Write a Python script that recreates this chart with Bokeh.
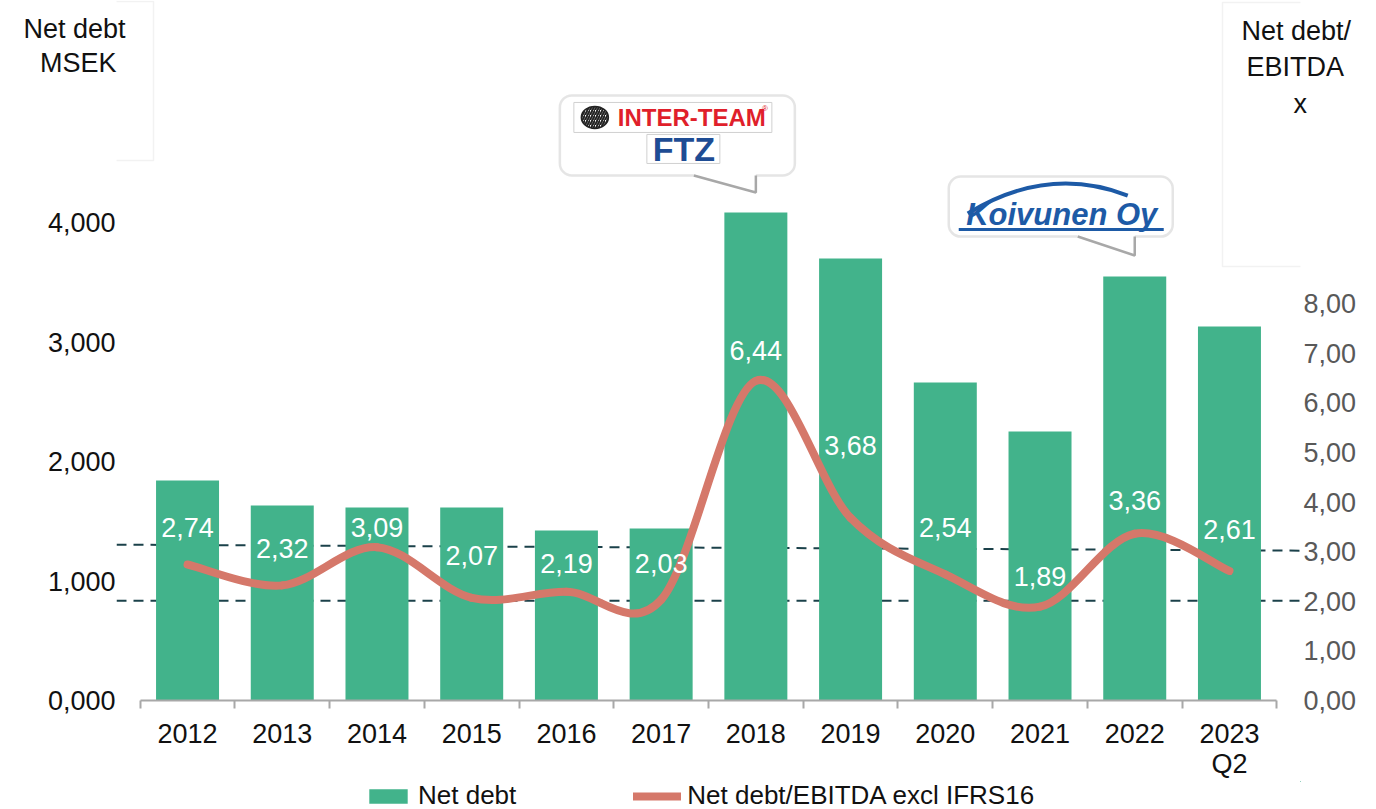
from bokeh.plotting import figure
from bokeh.layouts import column
from bokeh.models import (Range1d, LinearAxis, FixedTicker, Legend, LegendItem,
                          BoxAnnotation, ColumnDataSource)
from bokeh.core.properties import value
from bokeh.embed import file_html
from bokeh.resources import INLINE

# ---------------- data ----------------
categories = ["2012", "2013", "2014", "2015", "2016", "2017", "2018", "2019",
              "2020", "2021", "2022", "2023\nQ2"]
net_debt = [1841, 1632, 1615, 1615, 1423, 1439, 4084, 3699, 2661, 2251, 3548, 3130]
net_debt_ebitda = [2.74, 2.32, 3.09, 2.07, 2.19, 2.03, 6.44, 3.68, 2.54, 1.89, 3.36, 2.61]
ratio_labels = ["2,74", "2,32", "3,09", "2,07", "2,19", "2,03", "6,44", "3,68",
                "2,54", "1,89", "3,36", "2,61"]
left_ticks = [0, 1000, 2000, 3000, 4000]
left_tick_labels = ["0,000", "1,000", "2,000", "3,000", "4,000"]
right_ticks = [0, 1, 2, 3, 4, 5, 6, 7, 8]
right_tick_labels = ["0,00", "1,00", "2,00", "3,00", "4,00", "5,00", "6,00", "7,00", "8,00"]
left_title_lines = ["Net debt", "MSEK"]
right_title_lines = ["Net debt/", "EBITDA", "x"]
series_names = ["Net debt", "Net debt/EBITDA excl IFRS16"]
guide_start = [3.14, 2.01]   # dashed reference lines (right axis), left end
guide_end = [3.02, 2.01]     # right end

# label vertical offsets above the line points (pixels)
label_dy = [37, 37, 20, 42, 28, 36, 30, 72, 47, 30, 33, 41]

# ---------------- layout constants ----------------
FONT = "Liberation Sans"
W = 1376
FW, FH = 1184, 700
ML, MR, MT = 116, 76, 0
X0, X1 = -0.25, 12.25
PX_X = FW / (X1 - X0)
PX_YL = 0.1195          # px per MSEK
PX_YR = 49.625          # px per ratio unit
YL_MAX = FH / PX_YL
YR_MAX = FH / PX_YR

GREEN = "#42b38b"
SALMON = "#d5786a"
GUIDE = "#1b414a"
AXIS_GRAY = "#a8a8a8"
TXT = "#111111"

n = len(categories)
pos = [i + 0.5 for i in range(n)]
bounds = list(range(n + 1))

p = figure(x_range=Range1d(X0, X1), y_range=Range1d(0, YL_MAX),
           frame_width=FW, frame_height=FH,
           min_border_left=ML, min_border_right=MR, min_border_top=MT, min_border_bottom=0,
           output_backend="svg", toolbar_location=None)
p.extra_y_ranges = {"right": Range1d(0, YR_MAX)}
p.grid.visible = False
p.outline_line_color = None
p.background_fill_color = "white"
p.border_fill_color = "white"


def xd(px):
    return X0 + (px - ML) / PX_X


def yd(py):
    return (MT + FH - py) / PX_YL


def yr(py):
    return round((MT + FH - py) / PX_YR, 3)


def plain(ax, size="27px", color=TXT, standoff=1):
    ax.axis_line_color = None
    ax.major_tick_line_color = None
    ax.minor_tick_line_color = None
    ax.major_tick_out = 0
    ax.major_tick_in = 0
    ax.minor_tick_out = 0
    ax.minor_tick_in = 0
    ax.major_label_text_font = FONT
    ax.major_label_text_font_size = size
    ax.major_label_text_color = color
    ax.major_label_standoff = standoff


def title_axis(text, tick, standoff, side, range_name="default"):
    ax = LinearAxis(y_range_name=range_name, ticker=FixedTicker(ticks=[tick]),
                    major_label_overrides={tick: text})
    plain(ax, standoff=standoff)
    p.add_layout(ax, side)


# ---------------- axes ----------------
xa = p.xaxis[0]
xa.ticker = FixedTicker(ticks=pos, minor_ticks=bounds)
xa.major_label_overrides = {pp: c for pp, c in zip(pos, categories)}
xa.bounds = (bounds[0], bounds[-1])
xa.axis_line_color = AXIS_GRAY
xa.axis_line_width = 2
xa.major_tick_line_color = None
xa.major_tick_out = 0
xa.major_tick_in = 0
xa.minor_tick_line_color = AXIS_GRAY
xa.minor_tick_line_width = 2
xa.minor_tick_out = 8
xa.minor_tick_in = 0
xa.major_label_text_font = FONT
xa.major_label_text_font_size = "27px"
xa.major_label_text_color = TXT
xa.major_label_text_line_height = 1.0
xa.major_label_standoff = 10

# left: numbers (inner), then title lines (outer, pulled back with negative standoff)
ya = p.yaxis[0]
ya.ticker = FixedTicker(ticks=left_ticks)
ya.major_label_overrides = {t: l for t, l in zip(left_ticks, left_tick_labels)}
plain(ya, standoff=1)
title_axis(left_title_lines[1], float(round(yd(63))), -72, "left")
title_axis(left_title_lines[0], float(round(yd(28))), -89, "left")

# right: title lines (inner, increasing right end), then numbers
title_axis(right_title_lines[2], yr(103), -7, "right", "right")
title_axis(right_title_lines[1], yr(67), -64, "right", "right")
title_axis(right_title_lines[0], yr(30), -106, "right", "right")
ra = LinearAxis(y_range_name="right")
ra.ticker = FixedTicker(ticks=right_ticks)
ra.major_label_overrides = {t: l for t, l in zip(right_ticks, right_tick_labels)}
plain(ra, color="#595959", standoff=-51)
p.add_layout(ra, "right")

# ---------------- dashed guides ----------------
p.segment(x0=[X0] * len(guide_start), x1=[X1] * len(guide_end), y0=guide_start, y1=guide_end,
          y_range_name="right", line_color=GUIDE, line_width=2, line_dash="10 7")

# ---------------- bars ----------------
src = ColumnDataSource(dict(x=pos, nd=net_debt, r=net_debt_ebitda, lab=ratio_labels,
                            dy=[-d for d in label_dy]))
bars = p.vbar(x="x", top="nd", width=0.665, source=src, fill_color=GREEN, line_color=None)

# ---------------- smoothed ratio line (Catmull-Rom / Bezier through the data) ----------------
m = []
for i in range(n):
    a = max(i - 1, 0)
    b = min(i + 1, n - 1)
    m.append(((pos[b] - pos[a]) / 6.0, (net_debt_ebitda[b] - net_debt_ebitda[a]) / 6.0))
bx0, by0, bx1, by1, cx0, cy0, cx1, cy1 = [], [], [], [], [], [], [], []
for i in range(n - 1):
    bx0.append(pos[i]); by0.append(net_debt_ebitda[i])
    bx1.append(pos[i + 1]); by1.append(net_debt_ebitda[i + 1])
    cx0.append(pos[i] + m[i][0]); cy0.append(net_debt_ebitda[i] + m[i][1])
    cx1.append(pos[i + 1] - m[i + 1][0]); cy1.append(net_debt_ebitda[i + 1] - m[i + 1][1])
curve = p.bezier(x0=bx0, y0=by0, x1=bx1, y1=by1, cx0=cx0, cy0=cy0, cx1=cx1, cy1=cy1,
                 y_range_name="right", line_color=SALMON, line_width=8, line_cap="round")

# ---------------- data labels ----------------
p.text(x="x", y="r", text="lab", y_offset="dy", source=src, y_range_name="right",
       text_color="white", text_font=value(FONT), text_font_size="27px",
       text_align="center", text_baseline="middle")


# ---------------- callout bubbles ----------------
def bubble(i, tip_gap, box_l, box_r, box_t, box_b, tail_l):
    tx = pos[i]
    ty = net_debt[i] + tip_gap / PX_YL
    dx = lambda d: tx + d / PX_X
    dy = lambda d: ty + d / PX_YL
    p.add_layout(BoxAnnotation(left=dx(box_l), right=dx(box_r), top=dy(box_t), bottom=dy(box_b),
                               fill_color="white", fill_alpha=1.0, line_color=AXIS_GRAY,
                               line_width=2.5, border_radius=12))
    p.patch([dx(tail_l), dx(tail_l), tx, tx], [dy(box_b + 3), dy(box_b), ty, dy(box_b + 3)],
            fill_color="white", line_color=None, level="overlay")
    p.line([dx(tail_l), tx, tx], [dy(box_b), ty, dy(box_b)], line_color=AXIS_GRAY,
           line_width=2.5, level="overlay")
    return dx, dy


dx, dy = bubble(6, 20, -196, 39, 97, 17, -62)
p.quad(left=[dx(-182)], right=[dx(16)], top=[dy(90)], bottom=[dy(60)], fill_color="white",
       line_color="#d0d0d0", line_width=1, level="overlay")
p.ellipse(x=[dx(-161)], y=[dy(75)], width=27, height=22, width_units="screen", height_units="screen",
          fill_color="white", line_color="#222222", line_width=1.5, hatch_pattern="/",
          hatch_color="#222222", hatch_scale=5, hatch_weight=2, level="overlay")
p.text(x=[dx(-138)], y=[dy(75)], text=["INTER-TEAM"], text_font=value(FONT), text_font_style="bold",
       text_font_size="24px", text_color="#e01f2b", text_baseline="middle", text_align="left",
       level="overlay")
p.text(x=[dx(9)], y=[dy(84)], text=["®"], text_font=value(FONT), text_font_size="8px",
       text_color="#e01f2b", text_baseline="middle", text_align="center", level="overlay")
p.quad(left=[dx(-109)], right=[dx(-36)], top=[dy(58)], bottom=[dy(29)], fill_color="white",
       line_color="#d0d0d0", line_width=1, level="overlay")
p.text(x=[dx(-72)], y=[dy(43)], text=["FTZ"], text_font=value(FONT), text_font_style="bold",
       text_font_size="34px", text_color="#1e4c94", text_baseline="middle", text_align="center",
       level="overlay")

dx, dy = bubble(10, 21, -186, 38, 79, 19, -57)
KBLUE = "#1d5aa6"
p.quadratic(x0=[dx(-167)], y0=[dy(42)], x1=[dx(-7)], y1=[dy(60)], cx=[dx(-87)], cy=[dy(91)],
            line_color=KBLUE, line_width=4, level="overlay")
p.text(x=[dx(-73)], y=[dy(41)], text=["Koivunen Oy"], text_font=value(FONT),
       text_font_style="bold italic", text_font_size="31px", text_color=KBLUE,
       text_baseline="middle", text_align="center", level="overlay")
p.segment(x0=[dx(-176)], y0=[dy(26)], x1=[dx(29)], y1=[dy(26)], line_color=KBLUE,
          line_width=3, level="overlay")

# ---------------- axis title boxes (outline, visible within the frame) ----------------
p.add_layout(BoxAnnotation(left=xd(5), right=xd(153), top=yd(1), bottom=yd(160),
                           fill_alpha=0.0, line_color="#d4d4d4", line_width=1.5))
p.add_layout(BoxAnnotation(left=xd(1222), right=xd(1366), top=yd(2), bottom=yd(266),
                           fill_alpha=0.0, line_color="#d4d4d4", line_width=1.5))

# ---------------- legend strip (separate figure under the chart, frame aligned) ----------------
LH = 30
pl = figure(width=W, height=LH, x_range=Range1d(-100, -99), y_range=Range1d(-100, -99),
            min_border=0, x_axis_location=None, y_axis_location=None,
            output_backend="svg", toolbar_location=None)
pl.grid.visible = False
pl.outline_line_color = None
# legend proxies drawn from the same data, kept outside the strip's visible ranges
leg_bar = pl.vbar(x="x", top="nd", width=0.665, source=src, fill_color=GREEN, line_color=None)
leg_line = pl.line(x="x", y="r", source=src, line_color=SALMON, line_width=8, line_cap="round")
legend = Legend(items=[LegendItem(label=series_names[0], renderers=[leg_bar]),
                       LegendItem(label=series_names[1], renderers=[leg_line])],
                orientation="horizontal", location=(248, 0), glyph_width=48, glyph_height=18,
                label_text_font=FONT, label_text_font_size="26px", label_text_color=TXT,
                label_standoff=6, spacing=117, padding=0, margin=0,
                border_line_color=None, background_fill_alpha=0)
pl.add_layout(legend)

layout = column(p, pl, spacing=0)
open("out.html", "w").write(file_html(layout, INLINE))
